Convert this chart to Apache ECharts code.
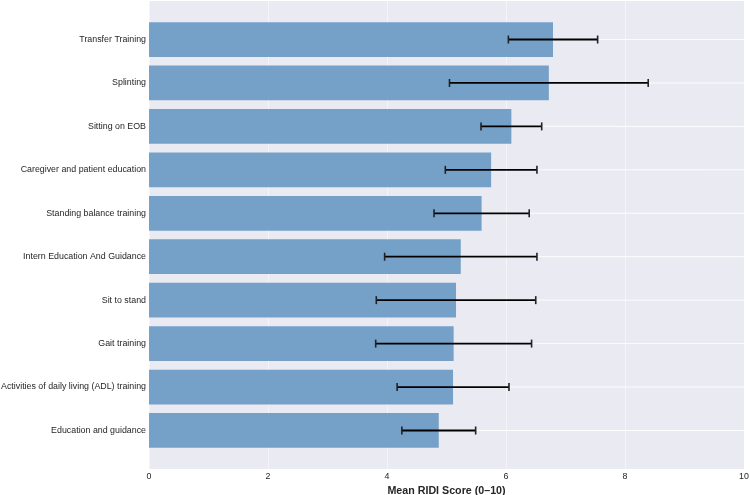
<!DOCTYPE html>
<html>
<head>
<meta charset="utf-8">
<script src="https://cdn.jsdelivr.net/npm/echarts@6/dist/echarts.min.js"></script>
<style>
  html, body { margin: 0; padding: 0; background: #fff; }
  #chart { width: 750px; height: 495px; }
</style>
</head>
<body>
<div id="chart"></div>
<script>
// interventions, top to bottom
const categories = [
    'Transfer Training',
    'Splinting',
    'Sitting on EOB',
    'Caregiver and patient education',
    'Standing balance training',
    'Intern Education And Guidance',
    'Sit to stand',
    'Gait training',
    'Activities of daily living (ADL) training',
    'Education and guidance',
];
const meanScores = [6.79, 6.72, 6.09, 5.75, 5.59, 5.24, 5.16, 5.12, 5.11, 4.87];
const sdScores = [0.75, 1.67, 0.51, 0.77, 0.80, 1.28, 1.34, 1.31, 0.94, 0.62];
const xTicks = [0, 2, 4, 6, 8, 10];

const FONT = 'Liberation Sans, Arial, sans-serif';
const BAR_COLOR = '#75A1C8';

const chart = echarts.init(document.getElementById('chart'), null, { renderer: 'canvas' });

const errData = categories.map((c, i) => [i, meanScores[i] - sdScores[i], meanScores[i] + sdScores[i]]);
const lineData = categories.map((c, i) => [i]);

const option = {
    animation: false,
    backgroundColor: '#ffffff',
    grid: [
        {
            // full plot area (background + x axis)
            left: 149, right: 6, top: 1, bottom: 26,
            outerBoundsMode: 'none',
            containLabel: false,
            show: true, backgroundColor: '#EAEAF2', borderWidth: 0,
        },
        {
            // inner area holding the categories
            left: 149, right: 6, top: 17.8, bottom: 42.8,
            outerBoundsMode: 'none',
            containLabel: false,
        },
    ],
    xAxis: [
        {
            gridIndex: 0,
            type: 'value',
            min: xTicks[0],
            max: xTicks[xTicks.length - 1],
            interval: 2,
            axisLine: { show: false },
            axisTick: { show: false },
            axisLabel: { color: '#262626', fontFamily: FONT, fontSize: 8.85, margin: 3 },
            splitLine: { show: true, lineStyle: { color: 'rgba(255,255,255,0.5)', width: 1 } },
            name: 'Mean RIDI Score (0–10)',
            nameLocation: 'middle',
            nameGap: 13.5,
            nameTextStyle: { color: '#262626', fontFamily: FONT, fontSize: 10.7, fontWeight: 'bold' },
        },
        {
            gridIndex: 1,
            type: 'value',
            min: xTicks[0],
            max: xTicks[xTicks.length - 1],
            show: false,
            splitLine: { show: false },
        },
    ],
    yAxis: [
        {
            gridIndex: 0,
            type: 'value',
            show: false,
            splitLine: { show: false },
        },
        {
            gridIndex: 1,
            type: 'category',
            data: categories,
            inverse: true,
            axisLine: { show: false },
            axisTick: { show: false },
            splitLine: { show: false },
            axisLabel: { color: '#262626', fontFamily: FONT, fontSize: 8.85, margin: 3 },
        },
    ],
    series: [
        {
            // horizontal white gridlines at each category
            type: 'custom',
            xAxisIndex: 1,
            yAxisIndex: 1,
            z: 1,
            silent: true,
            data: lineData,
            renderItem: (params, api) => {
                const a = api.coord([0, api.value(0)]);
                const b = api.coord([10, api.value(0)]);
                return {
                    type: 'line',
                    shape: { x1: a[0], y1: a[1], x2: b[0], y2: b[1] },
                    style: { stroke: 'rgba(255,255,255,0.9)', lineWidth: 1 },
                };
            },
        },
        {
            name: 'Mean',
            type: 'bar',
            xAxisIndex: 1,
            yAxisIndex: 1,
            z: 2,
            barCategoryGap: '20%',
            itemStyle: { color: BAR_COLOR },
            data: meanScores,
        },
        {
            name: 'SD',
            type: 'custom',
            xAxisIndex: 1,
            yAxisIndex: 1,
            z: 3,
            data: errData,
            encode: { x: [1, 2], y: 0 },
            renderItem: (params, api) => {
                const idx = api.value(0);
                const lo = api.coord([api.value(1), idx]);
                const hi = api.coord([api.value(2), idx]);
                const cap = 4;
                return {
                    type: 'group',
                    children: [
                        {
                            type: 'line',
                            shape: { x1: lo[0], y1: lo[1], x2: hi[0], y2: hi[1] },
                            style: { stroke: '#000000', lineWidth: 1.8 },
                        },
                        {
                            type: 'line',
                            shape: { x1: lo[0], y1: lo[1] - cap, x2: lo[0], y2: lo[1] + cap },
                            style: { stroke: '#222222', lineWidth: 1.6 },
                        },
                        {
                            type: 'line',
                            shape: { x1: hi[0], y1: hi[1] - cap, x2: hi[0], y2: hi[1] + cap },
                            style: { stroke: '#222222', lineWidth: 1.6 },
                        },
                    ],
                };
            },
        },
    ],
};

chart.setOption(option);
window.addEventListener('resize', () => chart.resize());
</script>
</body>
</html>
